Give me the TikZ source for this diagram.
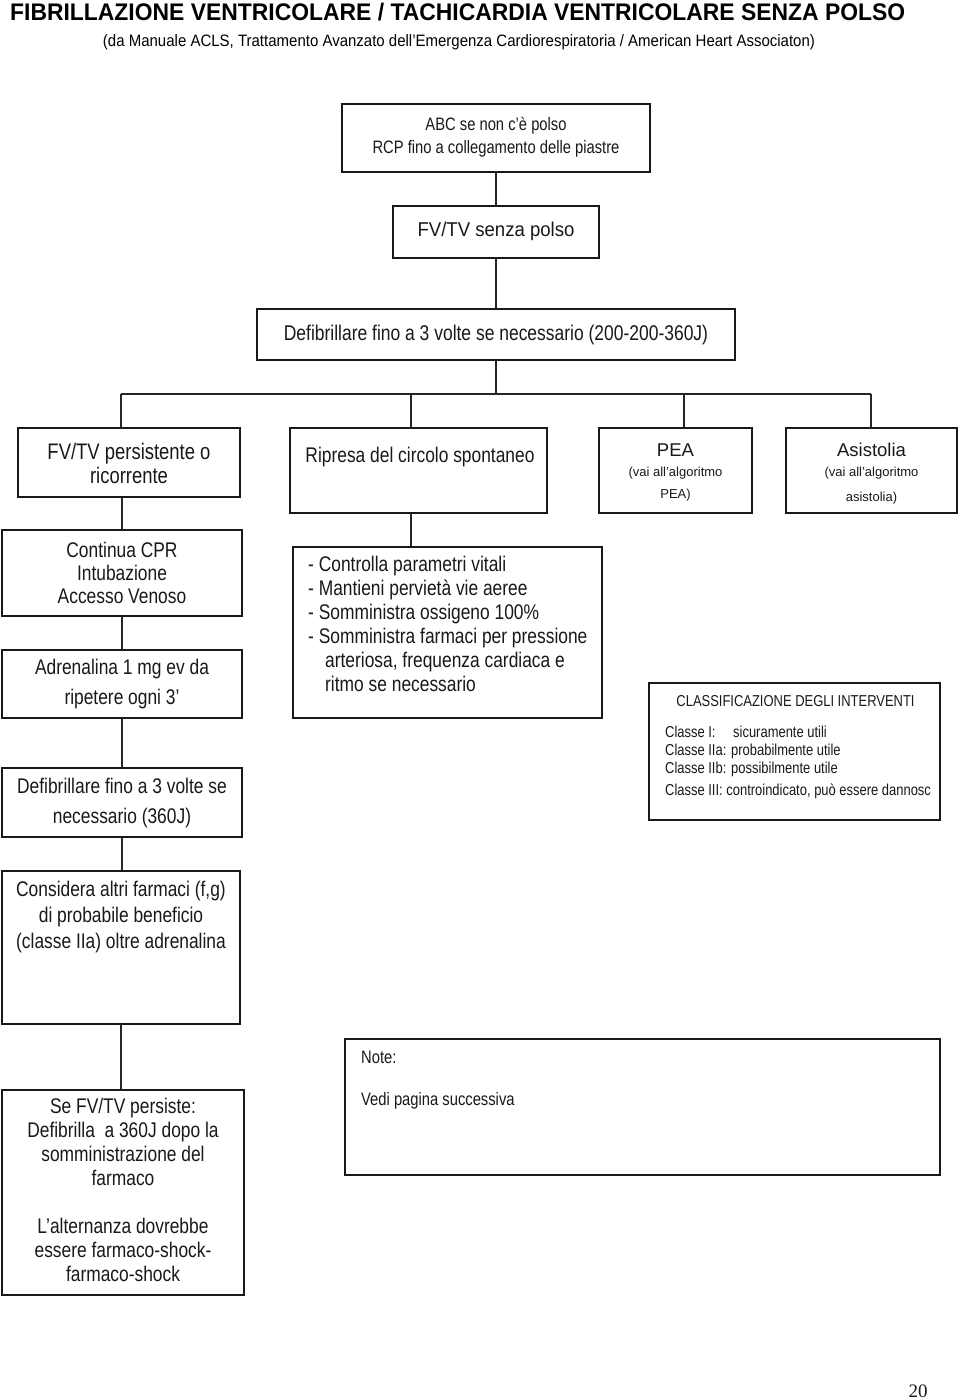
\documentclass[tikz,border=0pt]{standalone}
\usepackage{fontspec}
\usepackage{graphicx}
\setmainfont{Liberation Sans}
\newfontfamily\narrowf[FakeStretch=0.82]{Liberation Sans}
\newfontfamily\seriff{Liberation Serif}
\begin{document}
\begin{tikzpicture}[x=1pt,y=-1pt,
  box/.style={draw=black!90,line width=1.6pt,inner sep=0pt},
  link/.style={draw=black!85,line width=1.3pt},
  txt/.style={inner sep=0pt,align=center,text=black!90},
  ltxt/.style={inner sep=0pt,align=left,text=black!90}]
\useasboundingbox (0,0) rectangle (960,1400);
\fill[white] (0,0) rectangle (960,1400);

% ---------- boxes ----------
\node[box,minimum width=308,minimum height=68] (abc) at (496,138) {};
\node[box,minimum width=206,minimum height=52] (fvtv) at (496,232) {};
\node[box,minimum width=478,minimum height=51] (defib) at (496,334.5) {};
\node[box,minimum width=222,minimum height=69] (A) at (129,462.5) {};
\node[box,minimum width=257,minimum height=85] (B) at (418.5,470.5) {};
\node[box,minimum width=153,minimum height=85] (PEA) at (675.5,470.5) {};
\node[box,minimum width=171,minimum height=85] (Asis) at (871.5,470.5) {};
\node[box,minimum width=240,minimum height=86] (C1) at (122,573) {};
\node[box,minimum width=240,minimum height=68] (C2) at (122,684) {};
\node[box,minimum width=240,minimum height=69] (C3) at (122,802.5) {};
\node[box,minimum width=309,minimum height=171] (R2) at (447.5,632.5) {};
\node[box,minimum width=291,minimum height=137] (Cls) at (794.5,751.5) {};
\node[box,minimum width=238,minimum height=153] (D) at (121,947.5) {};
\node[box,minimum width=242,minimum height=205] (E) at (123,1192.5) {};
\node[box,minimum width=595,minimum height=136] (Note) at (642.5,1107) {};

% ---------- connectors ----------
\draw[link] (abc.south) -- (fvtv.north);
\draw[link] (fvtv.south) -- (defib.north);
\coordinate (hub) at (496,394);
\coordinate (hl) at (121,394);
\coordinate (hr) at (871,394);
\coordinate (dB) at (411,394);
\coordinate (dP) at (684,394);
\draw[link] (defib.south) -- (hub);
\draw[link] (hl) -- (hr);
\draw[link] (hl) -- (hl |- A.north);
\draw[link] (dB) -- (dB |- B.north);
\draw[link] (dP) -- (dP |- PEA.north);
\draw[link] (hr) -- (hr |- Asis.north);
\draw[link] (A.south -| C1.north) -- (C1.north);
\draw[link] (C1.south) -- (C2.north);
\draw[link] (C2.south) -- (C3.north);
\draw[link] (C3.south) -- (C3.south |- D.north);
\draw[link] (D.south) -- (D.south |- E.north);
\draw[link] (dB |- B.south) -- (dB |- R2.north);

% ---------- texts ----------
\node[anchor=base west,inner sep=0pt] (title) at (10,20)
  {\resizebox{895pt}{\height}{\fontsize{24}{26}\selectfont\bfseries FIBRILLAZIONE VENTRICOLARE / TACHICARDIA VENTRICOLARE SENZA POLSO}};
\node[anchor=base,inner sep=0pt] (sub) at (459,46)
  {\resizebox{712pt}{\height}{\narrowf\fontsize{16.5}{18}\selectfont (da Manuale ACLS, Trattamento Avanzato dell’Emergenza Cardiorespiratoria / American Heart Associaton)}};

\node[txt,font=\narrowf\fontsize{18}{23}\selectfont] (abct) at (496,137)
  {ABC se non c’è polso\\RCP fino a collegamento delle piastre};
\node[txt] (fvtvt) at (496,231)
  {\resizebox{157pt}{\height}{\narrowf\fontsize{20}{22}\selectfont FV/TV senza polso}};
\node[txt,font=\narrowf\fontsize{21.3}{24}\selectfont] (defibt) at (496,334.5) {Defibrillare fino a 3 volte se necessario (200-200-360J)};

\node[txt,font=\narrowf\fontsize{22.5}{24}\selectfont] (At) at (129,463) {FV/TV persistente o\\ricorrente};
\node[txt,font=\narrowf\fontsize{21.2}{22}\selectfont] (Bt) at (420,457) {Ripresa del circolo spontaneo};
\node[txt,font=\fontsize{18.5}{23}\selectfont] (PEAt1) at (675.5,450) {PEA};
\node[txt,font=\fontsize{13}{22}\selectfont] (PEAt2) at (675.5,484) {(vai all’algoritmo\\PEA)};
\node[txt,font=\fontsize{18.5}{23}\selectfont] (Ast1) at (871.5,450) {Asistolia};
\node[txt,font=\fontsize{13}{25}\selectfont] (Ast2) at (871.5,486) {(vai all’algoritmo\\asistolia)};

\node[txt,font=\narrowf\fontsize{21.2}{23}\selectfont] (C1t) at (122,573) {Continua CPR\\Intubazione\\Accesso Venoso};
\node[txt,font=\narrowf\fontsize{21.2}{30}\selectfont] (C2t) at (122,684) {Adrenalina 1 mg ev da\\ripetere ogni 3’};
\node[txt,font=\narrowf\fontsize{21.2}{30}\selectfont] (C3t) at (122,803) {Defibrillare fino a 3 volte se\\necessario (360J)};

\node[ltxt,anchor=north west,font=\narrowf\fontsize{21.2}{24}\selectfont] (R2t) at (308,556)
  {- Controlla parametri vitali\\
   - Mantieni pervietà vie aeree\\
   - Somministra ossigeno 100\%\\
   - Somministra farmaci per pressione\\
   \hspace*{17pt}arteriosa, frequenza cardiaca e\\
   \hspace*{17pt}ritmo se necessario};

\node[txt,font=\narrowf\fontsize{15.8}{18}\selectfont] (Clst) at (795.5,701) {CLASSIFICAZIONE DEGLI INTERVENTI};
\node[ltxt,anchor=north west,font=\narrowf\fontsize{15.8}{18}\selectfont] (Clsl) at (665,726)
  {\makebox[68pt][l]{Classe I:}sicuramente utili\\
   Classe IIa: probabilmente utile\\
   Classe IIb: possibilmente utile\\[4pt]
   Classe III: controindicato, può essere dannosc};

\node[txt,font=\narrowf\fontsize{21.2}{26}\selectfont] (Dt) at (121,917) {Considera altri farmaci (f,g)\\di probabile beneficio\\(classe IIa) oltre adrenalina};

\node[txt,anchor=north,font=\narrowf\fontsize{21.2}{24}\selectfont] (Et) at (123,1098)
  {Se FV/TV persiste:\\Defibrilla\ \ a 360J dopo la\\somministrazione del\\farmaco\\[24pt]L’alternanza dovrebbe\\essere farmaco-shock-\\farmaco-shock};

\node[ltxt,anchor=west,font=\narrowf\fontsize{18}{18}\selectfont] (Notet1) at (361,1057) {Note:};
\node[ltxt,anchor=west,font=\narrowf\fontsize{18}{18}\selectfont] (Notet2) at (361,1101) {Vedi pagina successiva};

\node[txt,font=\seriff\fontsize{19}{20}\selectfont] (pg) at (918,1391) {20};
\end{tikzpicture}
\end{document}
